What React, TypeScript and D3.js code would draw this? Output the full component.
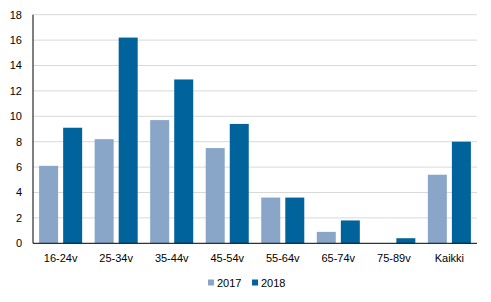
import React from "react";
import * as d3 from "d3";

const categories = ["16-24v", "25-34v", "35-44v", "45-54v", "55-64v", "65-74v", "75-89v", "Kaikki"];
const values2017 = [6.1, 8.2, 9.7, 7.5, 3.6, 0.9, 0, 5.4];
const values2018 = [9.1, 16.2, 12.9, 9.4, 3.6, 1.8, 0.4, 8.0];
const seriesNames = ["2017", "2018"];
const seriesColors = ["#89a5c8", "#00639c"];
const yTicks = [0, 2, 4, 6, 8, 10, 12, 14, 16, 18];

const W = 491;
const H = 302;
const margin = { left: 33, right: 14, top: 14.7, bottom: 58.7 };

export default function App() {
  const x0 = d3
    .scaleBand<string>()
    .domain(categories)
    .range([margin.left, W - margin.right])
    .paddingInner(0.225)
    .paddingOuter(0.11);
  const x1 = d3.scaleBand<string>().domain(seriesNames).range([0, x0.bandwidth()]).paddingInner(0.21);
  const y = d3.scaleLinear().domain([0, 18]).range([H - margin.bottom, margin.top]);
  const series = [values2017, values2018];
  const font = "'Liberation Sans', Arial, sans-serif";

  return (
    <svg
      width={W}
      height={H}
      style={{ position: "absolute", left: 0, top: 0, background: "#fff" }}
      fontFamily={font}
    >
      {yTicks.map((t) => (
        <g key={t}>
          {t > 0 && (
            <line x1={margin.left} x2={W - margin.right} y1={y(t)} y2={y(t)} stroke="#d9d9d9" strokeWidth={1} />
          )}
          <text x={22} y={y(t)} dy="0.35em" textAnchor="end" fontSize={11} fill="#000">
            {t}
          </text>
        </g>
      ))}
      {categories.map((c, i) => (
        <g key={c}>
          {series.map((vals, s) => (
            <rect
              key={s}
              x={(x0(c) ?? 0) + (x1(seriesNames[s]) ?? 0)}
              y={y(vals[i])}
              width={x1.bandwidth()}
              height={y(0) - y(vals[i])}
              fill={seriesColors[s]}
            />
          ))}
          <text
            x={(x0(c) ?? 0) + x0.bandwidth() / 2}
            y={y(0) + 15}
            dy="0.35em"
            textAnchor="middle"
            fontSize={11}
            fill="#000"
          >
            {c}
          </text>
        </g>
      ))}
      <line x1={margin.left} x2={W - margin.right} y1={y(0)} y2={y(0)} stroke="#000" strokeWidth={1} />
      <line x1={margin.left} x2={margin.left} y1={margin.top} y2={y(0)} stroke="#000" strokeWidth={1} />
      <g>
        <rect x={208} y={279.5} width={6} height={6} fill={seriesColors[0]} />
        <text x={217} y={283} dy="0.35em" fontSize={11} fill="#000">
          {seriesNames[0]}
        </text>
        <rect x={252} y={279.5} width={6} height={6} fill={seriesColors[1]} />
        <text x={261} y={283} dy="0.35em" fontSize={11} fill="#000">
          {seriesNames[1]}
        </text>
      </g>
    </svg>
  );
}
